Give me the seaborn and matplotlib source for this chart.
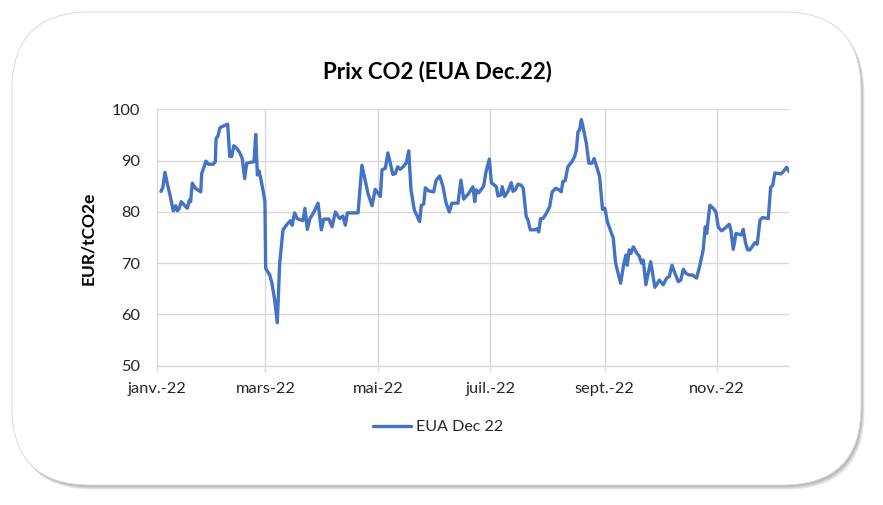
import matplotlib
matplotlib.use("Agg")
import numpy as np
import pandas as pd
import matplotlib.pyplot as plt
import seaborn as sns
from matplotlib.patches import FancyBboxPatch

# ---------------- data ----------------
start_date = "2022-01-01"
day_offsets = [2.3, 3.3, 4.5, 5.7, 7.2, 9.0, 10.3, 11.2, 12.1, 13.3, 15.0, 16.6, 17.7, 18.4, 19.3, 20.8,
               22.2, 23.9, 24.4, 25.7, 26.7, 28.0, 30.7, 31.8, 32.2, 33.2, 34.3, 36.5, 38.5, 39.6, 40.7,
               41.8, 43.7, 45.2, 46.4, 47.7, 48.8, 51.5, 52.8, 53.7, 54.6, 55.5, 56.6, 57.8, 58.7, 59.1,
               61.3, 62.5, 64.0, 65.4, 66.7, 68.5, 70.3, 72.5, 73.5, 74.8, 76.2, 78.1, 79.3, 80.4, 81.7,
               83.0, 85.3, 87.5, 89.3, 90.6, 93.4, 95.1, 96.9, 99.2, 101.0, 102.3, 103.4, 109.2, 111.3,
               114.6, 116.8, 118.5, 121.3, 122.2, 124.0, 125.4, 126.7, 128.1, 129.4, 130.7, 132.1, 133.9,
               135.4, 136.7, 137.9, 139.7, 142.6, 143.5, 144.8, 145.7, 147.5, 150.2, 151.6, 153.5, 155.3,
               156.9, 158.7, 160.1, 163.4, 165.0, 166.5, 169.2, 171.5, 172.5, 173.3, 174.6, 177.3, 178.6,
               180.4, 181.5, 184.2, 185.1, 186.6, 187.4, 188.7, 190.5, 192.3, 193.2, 194.5, 195.9, 197.7,
               198.8, 200.4, 201.4, 202.6, 205.0, 206.4, 207.2, 208.2, 209.5, 211.3, 213.1, 214.5, 216.4,
               218.2, 219.4, 220.3, 221.6, 223.0, 225.2, 226.7, 227.6, 228.5, 229.4, 230.3, 231.2, 233.0,
               234.4, 236.1, 237.2, 238.9, 240.2, 241.8, 243.1, 244.4, 247.6, 248.9, 251.6, 253.4, 254.5,
               255.2, 256.3, 257.2, 258.5, 260.3, 261.7, 263.0, 263.9, 265.3, 267.9, 270.2, 272.6, 274.7,
               276.6, 278.0, 279.5, 281.1, 282.9, 284.2, 285.6, 287.1, 288.8, 290.7, 292.8, 294.6, 296.4,
               297.5, 298.3, 300.0, 301.8, 303.3, 304.6, 306.4, 308.2, 310.5, 311.4, 312.7, 314.2, 317.2,
               318.1, 319.4, 320.5, 321.7, 324.5, 325.7, 327.2, 328.6, 331.7, 333.0, 334.1, 335.3, 337.1,
               338.6, 340.2, 341.6, 343.1]
prices = [84.0, 84.7, 87.7, 85.6, 83.3, 80.2, 81.2, 80.2, 80.6, 82.0, 81.3, 80.7, 82.3, 82.0, 85.6, 84.7,
          84.3, 83.9, 87.5, 88.8, 89.9, 89.3, 89.3, 89.8, 94.3, 94.8, 96.4, 96.8, 97.1, 90.8, 90.8,
          92.9, 92.3, 91.4, 90.4, 86.5, 89.5, 89.7, 89.8, 95.1, 87.2, 88.0, 86.2, 83.9, 82.0, 69.0,
          67.7, 66.1, 62.8, 58.4, 70.0, 76.5, 77.4, 78.3, 77.4, 79.8, 78.7, 78.4, 78.3, 80.7, 76.6,
          78.6, 80.0, 81.7, 76.5, 78.6, 78.6, 77.1, 80.0, 78.7, 79.2, 77.4, 79.8, 79.8, 89.1,
          83.6, 81.2, 84.4, 83.0, 88.2, 88.5, 91.5, 89.5, 87.3, 87.5, 88.8, 88.3, 88.9,
          89.6, 91.9, 84.4, 80.4, 78.1, 81.3, 81.5, 84.7, 84.1, 83.9, 86.2, 87.0, 84.9,
          81.8, 80.0, 81.7, 81.7, 86.2, 82.5, 83.6, 84.9, 82.0, 84.3, 83.7, 85.0, 87.8,
          90.3, 85.7, 84.9, 83.1, 83.3, 84.9, 83.0, 84.0, 85.7, 84.0, 84.3, 85.4, 85.2,
          84.6, 79.1, 78.4, 76.5, 76.5, 76.7, 76.1, 78.7, 78.7, 79.7, 81.0, 83.9, 84.6,
          84.3, 83.9, 85.9, 86.1, 88.8, 89.8, 90.8, 92.1, 95.6, 96.0, 98.0, 96.6, 93.4,
          89.5, 89.5, 90.4, 88.5, 86.9, 80.5, 80.7, 78.1, 74.9, 70.0, 66.1, 70.0, 71.6,
          69.6, 72.6, 71.9, 73.2, 72.0, 71.4, 70.0, 70.6, 65.8, 70.3, 65.3, 66.7, 65.8,
          67.1, 67.4, 69.6, 68.0, 66.4, 66.7, 68.8, 68.0, 67.7, 67.7, 67.1, 69.6, 72.6,
          77.1, 75.8, 81.3, 80.7, 80.0, 77.0, 76.3, 76.8, 77.6, 76.5, 72.7, 75.8, 75.5,
          76.6, 73.9, 72.6, 72.6, 74.0, 73.7, 78.4, 78.9, 78.7, 84.8, 85.2, 87.6, 87.5,
          87.4, 88.0, 88.7, 87.8]
x_end_offset = 343.1
month_ticks = ["2022-01-01", "2022-03-01", "2022-05-01", "2022-07-01", "2022-09-01", "2022-11-01"]
month_labels = ["janv.-22", "mars-22", "mai-22", "juil.-22", "sept.-22", "nov.-22"]
y_ticks = [50, 60, 70, 80, 90, 100]
title_text = "Prix CO2 (EUA Dec.22)"
y_label = "EUR/tCO2e"
series_name = "EUA Dec 22"

start = pd.Timestamp(start_date)
df = pd.DataFrame({
    "date": start + pd.to_timedelta(day_offsets, unit="D"),
    "price": prices,
})

# ---------------- style ----------------
sns.set_theme(style="white")
plt.rcParams["font.family"] = ["Lato", "DejaVu Sans"]

W, H = 8.83, 5.05
fig = plt.figure(figsize=(W, H), dpi=100)
fig.patch.set_facecolor("white")

# rounded frame with soft shadow (inches coords)
bx0, by0 = 0.12, 0.20
bw, bh = 8.61 - 0.12, 4.93 - 0.20
rad = 0.78
for k in range(1, 7):
    sh = FancyBboxPatch((bx0 + 0.006 * k, by0 - 0.008 * k), bw, bh,
                        boxstyle=f"round,pad=0,rounding_size={rad}",
                        transform=fig.dpi_scale_trans, facecolor="black",
                        edgecolor="none", alpha=0.06, zorder=-20)
    fig.add_artist(sh)
box = FancyBboxPatch((bx0, by0), bw, bh,
                     boxstyle=f"round,pad=0,rounding_size={rad}",
                     transform=fig.dpi_scale_trans, facecolor="white",
                     edgecolor="#dadada", linewidth=0.7, zorder=-10)
fig.add_artist(box)

ax = fig.add_axes([156.7 / 883, 1 - 365.8 / 505, (789.3 - 156.7) / 883, (365.8 - 109.3) / 505])
ax.set_facecolor("white")

sns.lineplot(data=df, x="date", y="price", color="#4472C4", linewidth=2.4,
             label=series_name, ax=ax)

ax.set_xlim(start, start + pd.to_timedelta(x_end_offset, unit="D"))
ax.set_ylim(min(y_ticks), max(y_ticks))
ax.set_yticks(y_ticks)
ax.set_yticklabels([str(v) for v in y_ticks])
ax.set_xticks(pd.to_datetime(month_ticks))
ax.set_xticklabels(month_labels)

ax.grid(True, color="#d9d9d9", linewidth=1.0)
ax.set_axisbelow(True)
for s in ["top", "right", "left"]:
    ax.spines[s].set_visible(False)
ax.spines["bottom"].set_color("#d9d9d9")
ax.spines["bottom"].set_linewidth(1.0)

ax.tick_params(axis="x", length=4, width=1.0, color="#d9d9d9", pad=7.5,
               labelsize=11.8, labelcolor="#262626", bottom=True)
ax.tick_params(axis="y", length=0, pad=12, labelsize=11.8, labelcolor="#262626")
ax.set_xlabel("")
ax.set_ylabel("")

fig.text(437 / 883, 1 - 72 / 505, title_text, ha="center", va="center",
         fontsize=16, fontweight="bold", color="black")
fig.text(88 / 883, 1 - 238 / 505, y_label, ha="center", va="center", rotation=90,
         fontsize=12.5, fontweight="bold", color="black")

leg = ax.legend(loc="center", bbox_to_anchor=(438 / 883, 1 - 427 / 505),
                bbox_transform=fig.transFigure, frameon=False, fontsize=11.5,
                handlelength=2.4, handletextpad=0.3)
for t in leg.get_texts():
    t.set_color("#262626")

fig.savefig("out.png", dpi=100, facecolor="white")
